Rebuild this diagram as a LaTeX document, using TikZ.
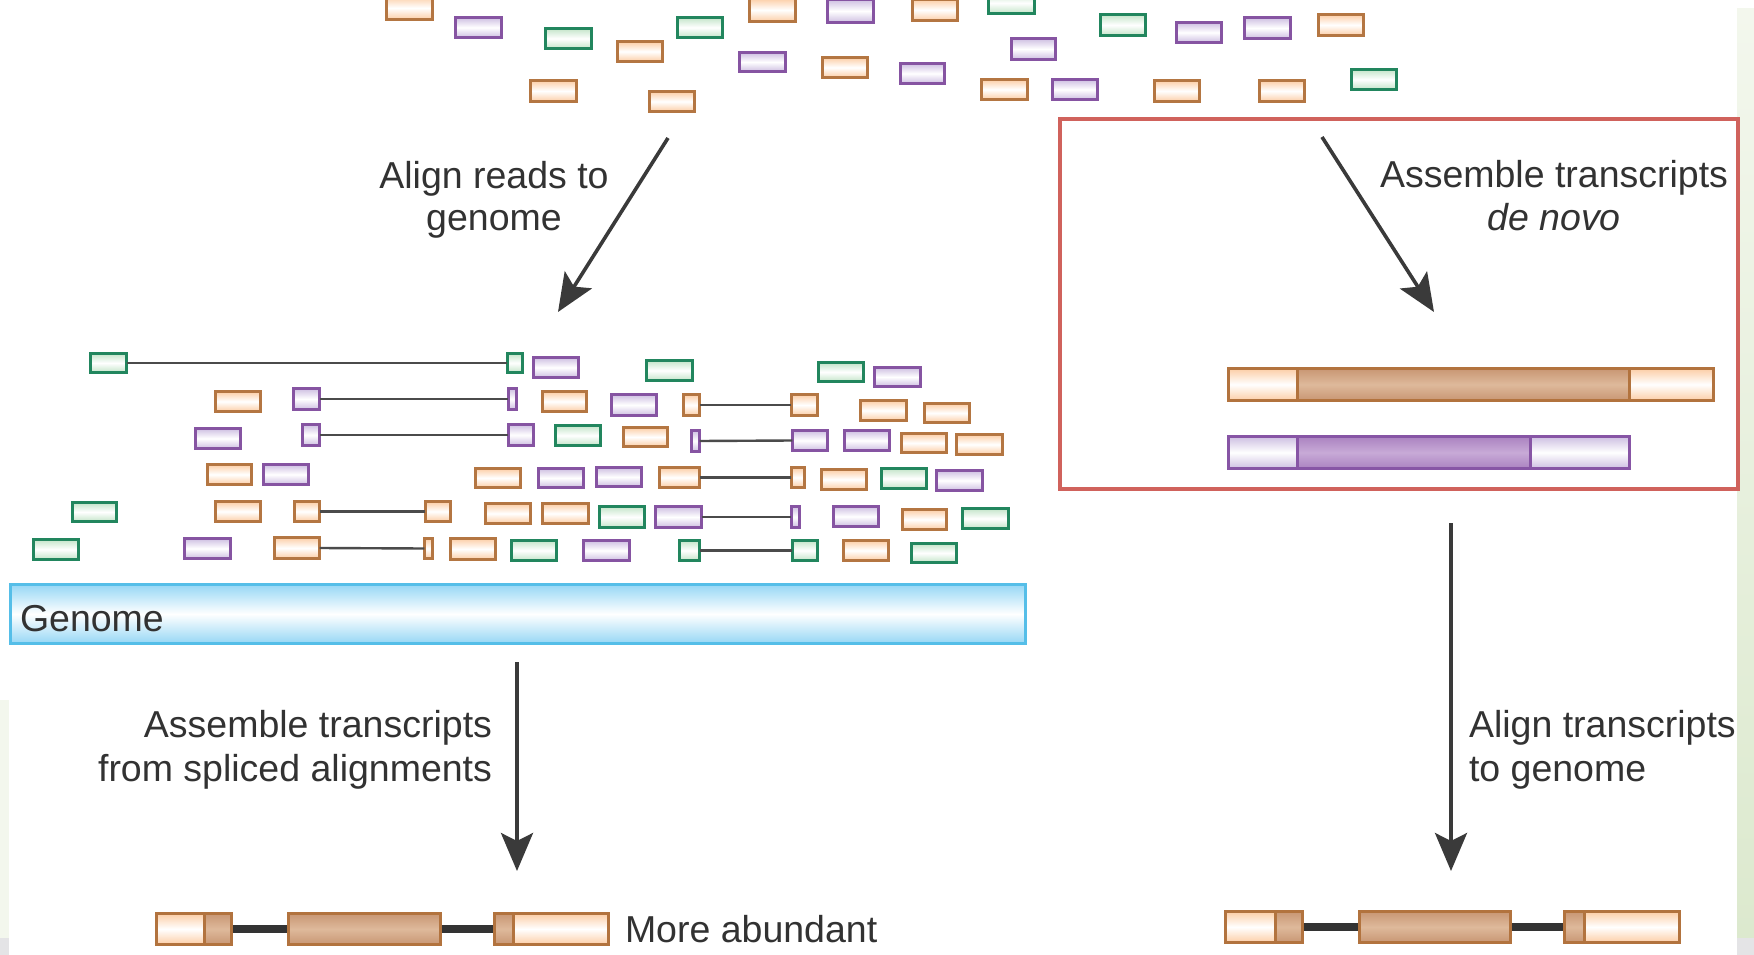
\documentclass[tikz,border=0pt]{standalone}
\usepackage{fontspec}
\setmainfont{Liberation Sans}
\usetikzlibrary{arrows.meta}
\definecolor{ordraw}{RGB}{180,118,66}
\definecolor{orfill}{RGB}{252,205,165}
\definecolor{pudraw}{RGB}{134,84,162}
\definecolor{pufill}{RGB}{205,190,225}
\definecolor{grdraw}{RGB}{34,134,94}
\definecolor{grfill}{RGB}{195,228,200}
\definecolor{rdline}{RGB}{75,75,75}
\definecolor{arr}{RGB}{58,58,58}
\definecolor{txt}{RGB}{50,50,50}
\definecolor{genedge}{RGB}{85,190,232}
\definecolor{genfill}{RGB}{150,215,245}
\definecolor{redframe}{RGB}{208,98,92}
\definecolor{exedge}{RGB}{178,115,62}
\definecolor{exdark}{RGB}{200,150,115}
\definecolor{exdarkmid}{RGB}{222,185,155}
\definecolor{pdedge}{RGB}{135,85,165}
\definecolor{pdark}{RGB}{170,130,192}
\definecolor{pdarkmid}{RGB}{200,170,215}
\definecolor{stripA}{RGB}{243,247,237}
\definecolor{stripB}{RGB}{220,233,206}
\definecolor{bottomgray}{RGB}{228,228,230}
\newcommand\rb[6]{\node[#2,minimum width={(#5)-(#3)-2.8},minimum height={(#6)-(#4)-2.8}] (#1) at ({((#3)+(#5))/2},{((#4)+(#6))/2}) {};}
\tikzset{
 rd/.style={rectangle, draw, line width=2.8pt, inner sep=0pt, outer sep=0pt},
 ob/.style={rd, draw=ordraw, top color=orfill, bottom color=orfill, middle color=white},
 pb/.style={rd, draw=pudraw, top color=pufill, bottom color=pufill, middle color=white},
 gb/.style={rd, draw=grdraw, top color=grfill, bottom color=grfill, middle color=white},
 spl/.style={draw=rdline, line width=2.4pt},
 exw/.style={rd, draw=exedge, line width=2.8pt, top color=orfill, bottom color=orfill, middle color=white},
 exd/.style={rd, draw=exedge, line width=2.8pt, top color=exdark, bottom color=exdark, middle color=exdarkmid},
 pw/.style={rd, draw=pdedge, line width=2.8pt, top color=pufill, bottom color=pufill, middle color=white},
 pdk/.style={rd, draw=pdedge, line width=2.8pt, top color=pdark, bottom color=pdark, middle color=pdarkmid},
 intron/.style={draw=black!80, line width=8pt, shorten <=1.4pt, shorten >=1.4pt},
 bigarrow/.style={draw=arr, line width=3.6pt, -{Stealth[length=38pt,width=32pt,inset=8pt]}},
 lbl/.style={text=txt, font=\fontsize{37.5}{44}\selectfont, inner sep=0pt, outer sep=0pt},
}
\begin{document}
\begin{tikzpicture}[x=1pt,y=-1pt,line join=miter]
\useasboundingbox (0,0) rectangle (1754,955);
\fill[white] (0,0) rectangle (1754,955);
% screenshot edges
\shade[top color=stripA,bottom color=stripB] (1737,9) rectangle (1754,938);
\fill[bottomgray] (1737,938) rectangle (1754,955);
\fill[stripA] (0,700) rectangle (9,938);
\fill[bottomgray] (0,938) rectangle (9,955);

% ---------- top reads ----------
\rb{t1}{ob}{385}{-5}{434}{21}
\rb{t2}{pb}{454}{16}{503}{39}
\rb{t3}{gb}{544}{27}{593}{50}
\rb{t4}{ob}{616}{40}{664}{63}
\rb{t5}{gb}{676}{16}{724}{39}
\rb{t6}{ob}{748}{-3}{797}{23}
\rb{t7}{pb}{826}{-2}{875}{24}
\rb{t8}{pb}{738}{51}{787}{73}
\rb{t9}{ob}{821}{56}{869}{79}
\rb{t10}{ob}{529}{79}{578}{103}
\rb{t11}{ob}{648}{90}{696}{113}
\rb{t12}{ob}{911}{-2}{959}{22}
\rb{t13}{gb}{987}{-9}{1036}{15}
\rb{t14}{gb}{1099}{13}{1147}{37}
\rb{t15}{pb}{1175}{21}{1223}{44}
\rb{t16}{pb}{1243}{16}{1292}{40}
\rb{t17}{ob}{1317}{13}{1365}{37}
\rb{t18}{pb}{1010}{37}{1057}{61}
\rb{t19}{pb}{899}{62}{946}{85}
\rb{t20}{ob}{980}{78}{1029}{101}
\rb{t21}{pb}{1051}{78}{1099}{101}
\rb{t22}{ob}{1153}{79}{1201}{103}
\rb{t23}{ob}{1258}{79}{1306}{103}
\rb{t24}{gb}{1350}{68}{1398}{91}

% ---------- aligned reads ----------
% row 1
\rb{m1a}{gb}{89}{352}{128}{374}
\rb{m1b}{gb}{506}{352}{524}{374}
\rb{m1c}{pb}{532}{356}{580}{379}
\rb{m1d}{gb}{645}{359}{694}{382}
\rb{m1e}{gb}{817}{361}{865}{383}
\rb{m1f}{pb}{873}{366}{922}{388}
% row 2
\rb{m2a}{ob}{214}{390}{262}{413}
\rb{m2b}{pb}{292}{387}{321}{411}
\rb{m2c}{pb}{507}{387}{518}{411}
\rb{m2d}{ob}{541}{390}{588}{413}
\rb{m2e}{pb}{610}{393}{658}{417}
\rb{m2f}{ob}{682}{393}{701}{417}
\rb{m2g}{ob}{790}{393}{819}{417}
\rb{m2h}{ob}{859}{399}{908}{422}
\rb{m2i}{ob}{923}{402}{971}{424}
% row 3
\rb{m3a}{pb}{194}{427}{242}{450}
\rb{m3b}{pb}{301}{423}{321}{447}
\rb{m3c}{pb}{507}{423}{535}{447}
\rb{m3d}{gb}{554}{424}{602}{447}
\rb{m3e}{ob}{622}{426}{669}{448}
\rb{m3f}{pb}{690}{429}{701}{453}
\rb{m3g}{pb}{791}{429}{829}{452}
\rb{m3h}{pb}{843}{429}{891}{452}
\rb{m3i}{ob}{900}{432}{948}{454}
\rb{m3j}{ob}{955}{433}{1004}{456}
% row 4
\rb{m4a}{ob}{206}{463}{253}{486}
\rb{m4b}{pb}{262}{463}{310}{486}
\rb{m4c}{ob}{474}{467}{522}{489}
\rb{m4d}{pb}{537}{467}{585}{489}
\rb{m4e}{pb}{595}{466}{643}{488}
\rb{m4f}{ob}{658}{466}{701}{489}
\rb{m4g}{ob}{790}{466}{806}{489}
\rb{m4h}{ob}{820}{468}{868}{491}
\rb{m4i}{gb}{880}{467}{928}{490}
\rb{m4j}{pb}{935}{469}{984}{492}
% row 5
\rb{m5a}{gb}{71}{501}{118}{523}
\rb{m5b}{ob}{214}{500}{262}{523}
\rb{m5c}{ob}{293}{500}{321}{523}
\rb{m5d}{ob}{424}{500}{452}{523}
\rb{m5e}{ob}{484}{502}{532}{525}
\rb{m5f}{ob}{541}{502}{590}{525}
\rb{m5g}{gb}{598}{505}{646}{529}
\rb{m5h}{pb}{654}{505}{703}{529}
\rb{m5i}{pb}{790}{505}{801}{529}
\rb{m5j}{pb}{832}{505}{880}{528}
\rb{m5k}{ob}{901}{508}{948}{531}
\rb{m5l}{gb}{961}{507}{1010}{530}
% row 6
\rb{m6a}{gb}{32}{538}{80}{561}
\rb{m6b}{pb}{183}{537}{232}{560}
\rb{m6c}{ob}{273}{536}{321}{560}
\rb{m6d}{ob}{423}{537}{434}{560}
\rb{m6e}{ob}{449}{537}{497}{561}
\rb{m6f}{gb}{510}{539}{558}{562}
\rb{m6g}{pb}{582}{539}{631}{562}
\rb{m6h}{gb}{678}{539}{701}{562}
\rb{m6i}{gb}{791}{539}{819}{562}
\rb{m6j}{ob}{842}{539}{890}{562}
\rb{m6k}{gb}{910}{542}{958}{564}
% spliced connections
\draw[spl] (m1a.east) -- (m1b.west);
\draw[spl] (m2b.east) -- (m2c.west);
\draw[spl] (m2f.east) -- (m2g.west);
\draw[spl] (m3b.east) -- (m3c.west);
\draw[spl] (m3f.east) -- (m3g.west);
\draw[spl] (m4f.east) -- (m4g.west);
\draw[spl] (m5c.east) -- (m5d.west);
\draw[spl] (m5h.east) -- (m5i.west);
\draw[spl] (m6c.east) -- (m6d.west);
\draw[spl] (m6h.east) -- (m6i.west);

% ---------- genome ----------
\node[rectangle, draw=genedge, line width=3pt, top color=genfill, bottom color=genfill, middle color=white, minimum width=1015, minimum height=59, inner sep=0pt, outer sep=0pt] (genome) at (518,614) {};
\node[lbl, anchor=base west] (genomelbl) at (20,631) {Genome};

% ---------- de novo box ----------
\draw[redframe, line width=4pt] (1060,119) rectangle (1738,489);
\rb{dnA}{exw}{1227}{367}{1715}{402}
\rb{dnB}{exd}{1296}{367}{1631}{402}
\rb{dpA}{pw}{1227}{435}{1631}{470}
\rb{dpB}{pdk}{1296}{435}{1532}{470}

% ---------- final transcripts ----------
\rb{la}{exw}{155}{912}{233}{946}
\rb{lad}{exd}{203}{912}{233}{946}
\rb{lb}{exd}{287}{912}{442}{946}
\rb{lc}{exw}{493}{912}{610}{946}
\rb{lcd}{exd}{493}{912}{515}{946}
\draw[intron] (la.east) -- (lb.west);
\draw[intron] (lb.east) -- (lc.west);
\node[lbl, anchor=base west] (moreab) at (625,942) {More abundant};

\rb{ra}{exw}{1224}{910}{1304}{944}
\rb{rad}{exd}{1274}{910}{1304}{944}
\rb{rbx}{exd}{1358}{910}{1512}{944}
\rb{rc}{exw}{1563}{910}{1681}{944}
\rb{rcd}{exd}{1563}{910}{1586}{944}
\draw[intron] (ra.east) -- (rbx.west);
\draw[intron] (rbx.east) -- (rc.west);

% ---------- arrows ----------
\coordinate (a1s) at (668,138); \coordinate (a1e) at (558,312);
\coordinate (a2s) at (1322,137); \coordinate (a2e) at (1434,312);
\coordinate (a3s) at (517,662); \coordinate (a3e) at (517,871);
\coordinate (a4s) at (1451,523); \coordinate (a4e) at (1451,871);
\draw[bigarrow] (a1s) -- (a1e);
\draw[bigarrow] (a2s) -- (a2e);
\draw[bigarrow] (a3s) -- (a3e);
\draw[bigarrow] (a4s) -- (a4e);

% ---------- labels ----------
\node[lbl, anchor=base] (l1a) at (494,188) {Align reads to};
\node[lbl, anchor=base] (l1b) at (494,230) {genome};
\node[lbl, anchor=base] (l2a) at (1554,187) {Assemble transcripts};
\node[lbl, anchor=base] (l2b) at (1554,230) {\itshape de novo};
\node[lbl, anchor=base east] (l3a) at (492,737) {Assemble transcripts};
\node[lbl, anchor=base east] (l3b) at (492,781) {from spliced alignments};
\node[lbl, anchor=base west] (l4a) at (1469,737) {Align transcripts};
\node[lbl, anchor=base west] (l4b) at (1469,781) {to genome};
\end{tikzpicture}
\end{document}
